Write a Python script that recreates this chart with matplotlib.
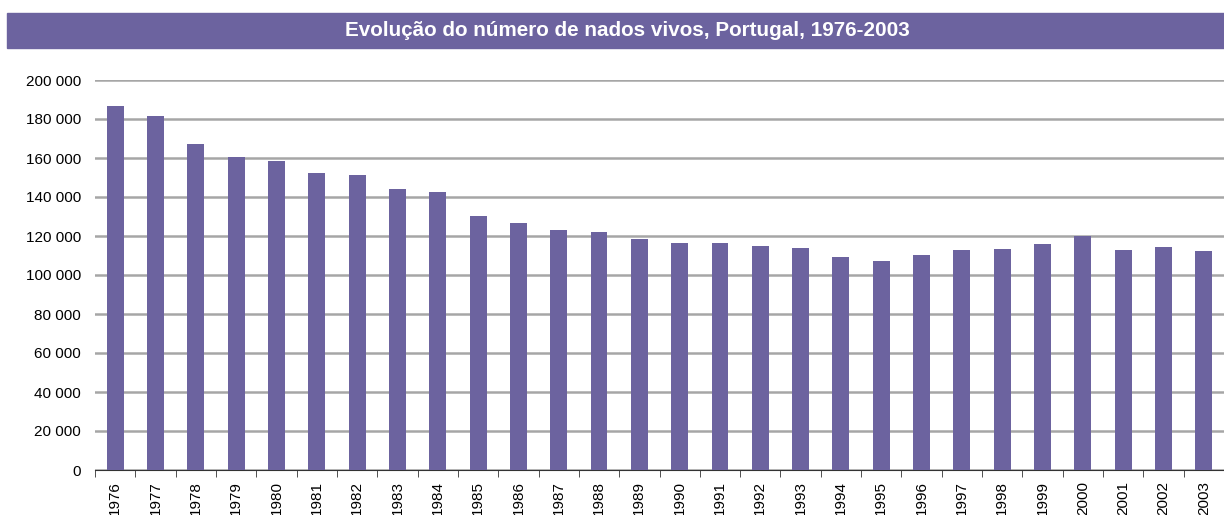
import numpy as np
import matplotlib.pyplot as plt
from matplotlib.patches import Rectangle
from matplotlib.ticker import FuncFormatter

plt.rcParams['font.family'] = ['Liberation Sans', 'DejaVu Sans']

anos = [str(a) for a in range(1976, 2004)]
nados_vivos = [186712, 181413, 167329, 160314, 158352, 152101, 151029, 144327,
               142805, 130492, 126748, 123218, 122121, 118560, 116383, 116415,
               115018, 114030, 109287, 107184, 110363, 113047, 113510, 116002,
               120008, 112774, 114383, 112515]
titulo = 'Evolução do número de nados vivos, Portugal, 1976-2003'

roxo = '#6C639F'
W, H = 1224, 515
fig = plt.figure(figsize=(W / 100, H / 100), dpi=100)

# faixa do titulo
fig.patches.append(Rectangle((7 / W, 1 - 48 / H), 1217 / W, 35 / H,
                             transform=fig.transFigure, color=roxo, zorder=0))
fig.text(627 / W, 1 - 31 / H, titulo, color='white', fontsize=14.9,
         fontweight='bold', ha='center', va='center')

ax = fig.add_axes([95 / W, 45 / H, 1129 / W, 390 / H])
x = np.arange(len(anos))
ax.bar(x, nados_vivos, width=0.42, color=roxo, zorder=3)

ax.set_xlim(-0.5, len(anos) - 0.5)
ax.set_ylim(0, 200000)
ax.set_yticks(np.arange(0, 200001, 20000))
ax.yaxis.set_major_formatter(FuncFormatter(lambda v, p: f'{int(v):,}'.replace(',', ' ')))
ax.grid(axis='y', color='#A6A6A6', linewidth=1.8, zorder=0)
ax.set_axisbelow(True)

ax.set_xticks(x)
ax.set_xticklabels(anos, rotation=90, fontsize=11)
ax.set_xticks(np.arange(-0.5, len(anos), 1), minor=True)
ax.tick_params(axis='x', which='major', length=0, pad=8)
ax.tick_params(axis='x', which='minor', length=5, color='#333333')
ax.tick_params(axis='y', length=0, labelsize=11, pad=10)

for s in ['top', 'right', 'left']:
    ax.spines[s].set_visible(False)
ax.spines['bottom'].set_color('#333333')

fig.savefig('out.png', dpi=100)
